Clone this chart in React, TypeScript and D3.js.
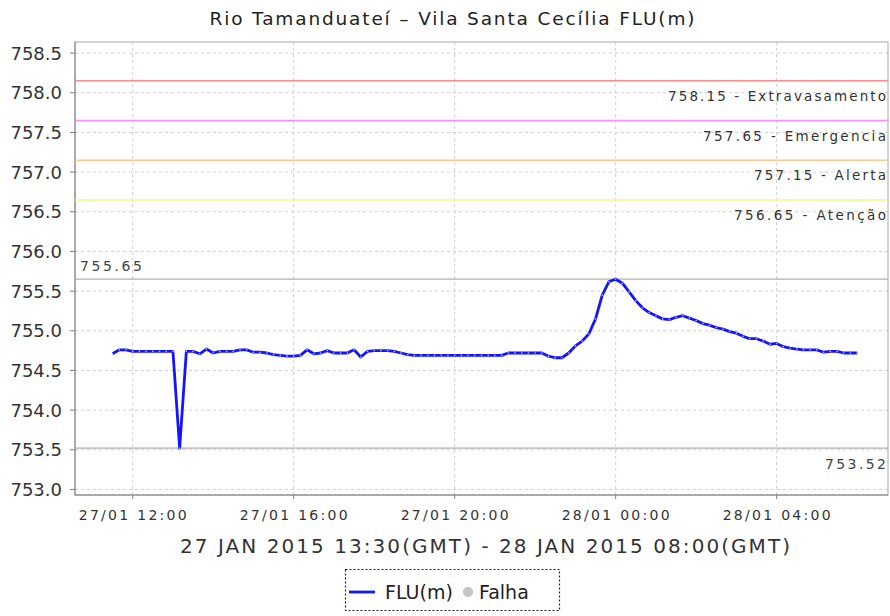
import React from "react";
import * as d3 from "d3";

const TITLE = "Rio Tamanduateí – Vila Santa Cecília FLU(m)";
const SUBTITLE = "27 JAN 2015 13:30(GMT) - 28 JAN 2015 08:00(GMT)";

// readings every 10 minutes starting 27/01 11:30 (local)
const START = Date.UTC(2015, 0, 27, 11, 30);
const STEP_MIN = 10;
const FLU_VALUES: number[] = [
  754.71, 754.76, 754.76, 754.74, 754.74, 754.74, 754.74, 754.74, 754.74, 754.74,
  753.52, 754.74, 754.74, 754.71, 754.77, 754.72, 754.74, 754.74, 754.74, 754.76,
  754.76, 754.73, 754.73, 754.72, 754.70, 754.69, 754.68, 754.68, 754.69, 754.76,
  754.71, 754.72, 754.75, 754.72, 754.72, 754.72, 754.76, 754.67, 754.74, 754.75,
  754.75, 754.75, 754.74, 754.72, 754.70, 754.69, 754.69, 754.69, 754.69, 754.69,
  754.69, 754.69, 754.69, 754.69, 754.69, 754.69, 754.69, 754.69, 754.69, 754.72,
  754.72, 754.72, 754.72, 754.72, 754.72, 754.68, 754.66, 754.66, 754.72, 754.81,
  754.87, 754.96, 755.15, 755.45, 755.62, 755.65, 755.60, 755.49, 755.38, 755.29,
  755.23, 755.19, 755.15, 755.14, 755.17, 755.19, 755.16, 755.13, 755.09, 755.07,
  755.04, 755.02, 754.99, 754.97, 754.93, 754.90, 754.90, 754.87, 754.83, 754.84,
  754.80, 754.78, 754.77, 754.76, 754.76, 754.76, 754.73, 754.74, 754.74, 754.72,
  754.72, 754.72,
];

const Y_TICKS = [753.0, 753.5, 754.0, 754.5, 755.0, 755.5, 756.0, 756.5, 757.0, 757.5, 758.0, 758.5];
const X_TICKS = [
  Date.UTC(2015, 0, 27, 12, 0),
  Date.UTC(2015, 0, 27, 16, 0),
  Date.UTC(2015, 0, 27, 20, 0),
  Date.UTC(2015, 0, 28, 0, 0),
  Date.UTC(2015, 0, 28, 4, 0),
];

const THRESHOLDS = [
  { value: 758.15, label: "758.15 - Extravasamento", color: "#ff8a8a", width: 218 },
  { value: 757.65, label: "757.65 - Emergencia", color: "#ff88ff", width: 183 },
  { value: 757.15, label: "757.15 - Alerta", color: "#ffc890", width: 132 },
  { value: 756.65, label: "756.65 - Atenção", color: "#fff080", width: 152 },
];
const MAX_LINE = 755.65;
const MIN_LINE = 753.52;

const W = 890;
const H = 616;
const L = 75;
const R = 888;
const T = 42;
const B = 495;

export default function App() {
  const x = d3
    .scaleUtc()
    .domain([Date.UTC(2015, 0, 27, 10, 34), Date.UTC(2015, 0, 28, 6, 46)])
    .range([L, R]);
  const y = d3.scaleLinear().domain([752.93, 758.64]).range([B, T]);

  const data = FLU_VALUES.map((v, i) => ({ t: START + i * STEP_MIN * 60000, v }));
  const line = d3
    .line<{ t: number; v: number }>()
    .x((d) => x(d.t))
    .y((d) => y(d.v));
  const fmt = d3.utcFormat("%d/%m %H:%M");
  const font = "'DejaVu Sans', sans-serif";

  return (
    <svg
      width={W}
      height={H}
      style={{ position: "absolute", left: 0, top: 0, background: "#fff" }}
      fontFamily={font}
    >
      <rect x={0} y={0} width={W} height={H} fill="#fff" />
      <text x={452} y={25} textAnchor="middle" fontSize={18.5} fill="#222" textLength={485} lengthAdjust="spacing">
        {TITLE}
      </text>

      {/* grid */}
      {Y_TICKS.map((t) => (
        <line key={"gy" + t} x1={L} x2={R} y1={y(t)} y2={y(t)} stroke="#cfcfcf" strokeDasharray="3,3" />
      ))}
      {X_TICKS.map((t) => (
        <line key={"gx" + t} x1={x(t)} x2={x(t)} y1={T} y2={B} stroke="#cfcfcf" strokeDasharray="3,3" />
      ))}

      {/* plot outline */}
      <rect x={L} y={T} width={R - L} height={B - T} fill="none" stroke="#a8a8a8" />
      <line x1={L} x2={L} y1={T} y2={B} stroke="#808080" />
      <line x1={L} x2={R} y1={B} y2={B} stroke="#808080" />

      {/* y axis */}
      {Y_TICKS.map((t) => (
        <g key={"yt" + t}>
          <line x1={L - 5} x2={L} y1={y(t)} y2={y(t)} stroke="#808080" />
          <text x={62} y={y(t)} dy="0.36em" textAnchor="end" fontSize={18} fill="#333">
            {t.toFixed(1)}
          </text>
        </g>
      ))}

      {/* x axis */}
      {X_TICKS.map((t) => (
        <g key={"xt" + t}>
          <line x1={x(t)} x2={x(t)} y1={B} y2={B + 4} stroke="#808080" />
          <text x={x(t)} y={520} textAnchor="middle" fontSize={14} fill="#333" textLength={108} lengthAdjust="spacing">
            {fmt(new Date(t))}
          </text>
        </g>
      ))}
      <text x={485} y={553} textAnchor="middle" fontSize={20} fill="#333" textLength={610} lengthAdjust="spacing">
        {SUBTITLE}
      </text>

      {/* threshold lines */}
      {THRESHOLDS.map((th) => (
        <g key={th.label}>
          <line x1={L} x2={R} y1={y(th.value)} y2={y(th.value)} stroke={th.color} strokeWidth={1.5} />
          <text
            x={R - 2}
            y={y(th.value) + 20}
            textAnchor="end"
            fontSize={13.5}
            fill="#333"
            textLength={th.width}
            lengthAdjust="spacing"
          >
            {th.label}
          </text>
        </g>
      ))}
      <line x1={L} x2={R} y1={y(MAX_LINE)} y2={y(MAX_LINE)} stroke="#b0b0b0" strokeWidth={1.2} />
      <text x={80} y={y(MAX_LINE) - 8} fontSize={14} fill="#444" textLength={62} lengthAdjust="spacing">
        {MAX_LINE.toFixed(2)}
      </text>
      <line x1={L} x2={R} y1={y(MIN_LINE)} y2={y(MIN_LINE)} stroke="#b0b0b0" strokeWidth={1.2} />
      <text x={R - 2} y={y(MIN_LINE) + 21} textAnchor="end" fontSize={14} fill="#444" textLength={61} lengthAdjust="spacing">
        {MIN_LINE.toFixed(2)}
      </text>

      {/* series */}
      <path d={line(data) || ""} fill="none" stroke="#1414ff" strokeWidth={2.8} strokeLinejoin="round" />
      {data.map((d, i) => (
        <circle key={i} cx={x(d.t)} cy={y(d.v)} r={0.8} fill="#c8c8ff" />
      ))}

      {/* legend */}
      <rect x={345.5} y={569.5} width={214} height={41} fill="#fff" stroke="#222" strokeWidth={1.2} strokeDasharray="2,2" />
      <line x1={349} x2={375} y1={592} y2={592} stroke="#1414ff" strokeWidth={2.8} />
      <text x={385} y={599} fontSize={19} fill="#222">
        FLU(m)
      </text>
      <circle cx={468} cy={592} r={5} fill="#c4c4c4" />
      <text x={479} y={599} fontSize={19} fill="#222">
        Falha
      </text>
    </svg>
  );
}
